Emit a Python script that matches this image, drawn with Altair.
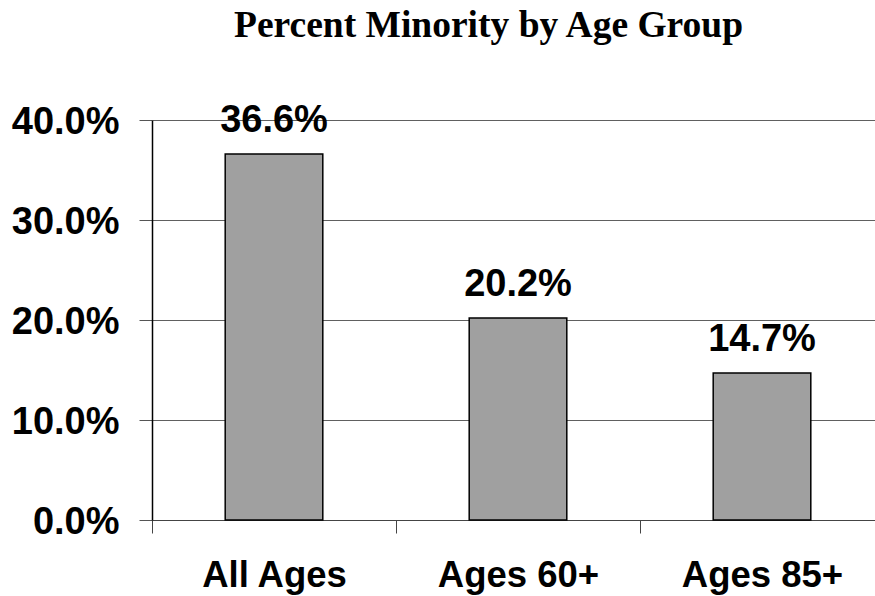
import altair as alt
import pandas as pd

# Share of the population belonging to a minority group, by age band
groups = ["All Ages", "Ages 60+", "Ages 85+"]
pct_minority = [36.6, 20.2, 14.7]

df = pd.DataFrame({
    "group": groups,
    "pct": [v / 100 for v in pct_minority],
})

STEP = 244          # width of one category slot in pixels
SANS = "Liberation Sans"
SERIF = "Liberation Serif"

x = alt.X(
    "group:N",
    sort=groups,
    title=None,
    scale=alt.Scale(range=[0, 3 * STEP], paddingInner=0, paddingOuter=0),
    axis=alt.Axis(
        labelAngle=0,
        labelFont=SANS,
        labelFontSize=36.5,
        labelFontWeight="bold",
        labelColor="black",
        labelPadding=24,
        tickOffset=-STEP / 2,
        labelOffset=STEP / 2,
        tickSize=13,
        tickColor="#444444",
        domainColor="#444444",
        grid=False,
    ),
)

y = alt.Y(
    "pct:Q",
    title=None,
    scale=alt.Scale(domain=[0, 0.4], nice=False),
    axis=alt.Axis(
        values=[0, 0.1, 0.2, 0.3, 0.4],
        format=".1%",
        labelFont=SANS,
        labelFontSize=38,
        labelFontWeight="bold",
        labelColor="black",
        labelPadding=20,
        labelOffset=2,
        tickSize=13,
        tickColor="#555555",
        domainColor="black",
        domainWidth=1.5,
        grid=True,
        gridColor="#606060",
        gridOpacity=1,
    ),
)

bars = alt.Chart(df).mark_bar(
    width=alt.RelativeBandSize(0.4),
    fill="#a0a0a0",
    stroke="black",
    strokeWidth=1.5,
).encode(x=x, y=y)

labels = alt.Chart(df).mark_text(
    dy=-22,
    baseline="alphabetic",
    font=SANS,
    fontSize=38,
    fontWeight="bold",
    color="black",
).encode(
    x=alt.X("group:N", sort=groups),
    y=alt.Y("pct:Q"),
    text=alt.Text("pct:Q", format=".1%"),
)

chart = alt.layer(bars, labels).properties(
    width=723,
    height=400,
    autosize=alt.AutoSizeParams(type="none"),
    padding={"left": 152, "top": 120, "right": 0, "bottom": 76},
    title=alt.TitleParams(
        "Percent Minority by Age Group",
        font=SERIF,
        fontSize=37.5,
        fontWeight="bold",
        color="black",
        anchor="middle",
        dx=-25,
        dy=-54,
    ),
).configure_view(stroke=None)

chart.save("out.html", embed_options={"renderer": "svg", "actions": False})
